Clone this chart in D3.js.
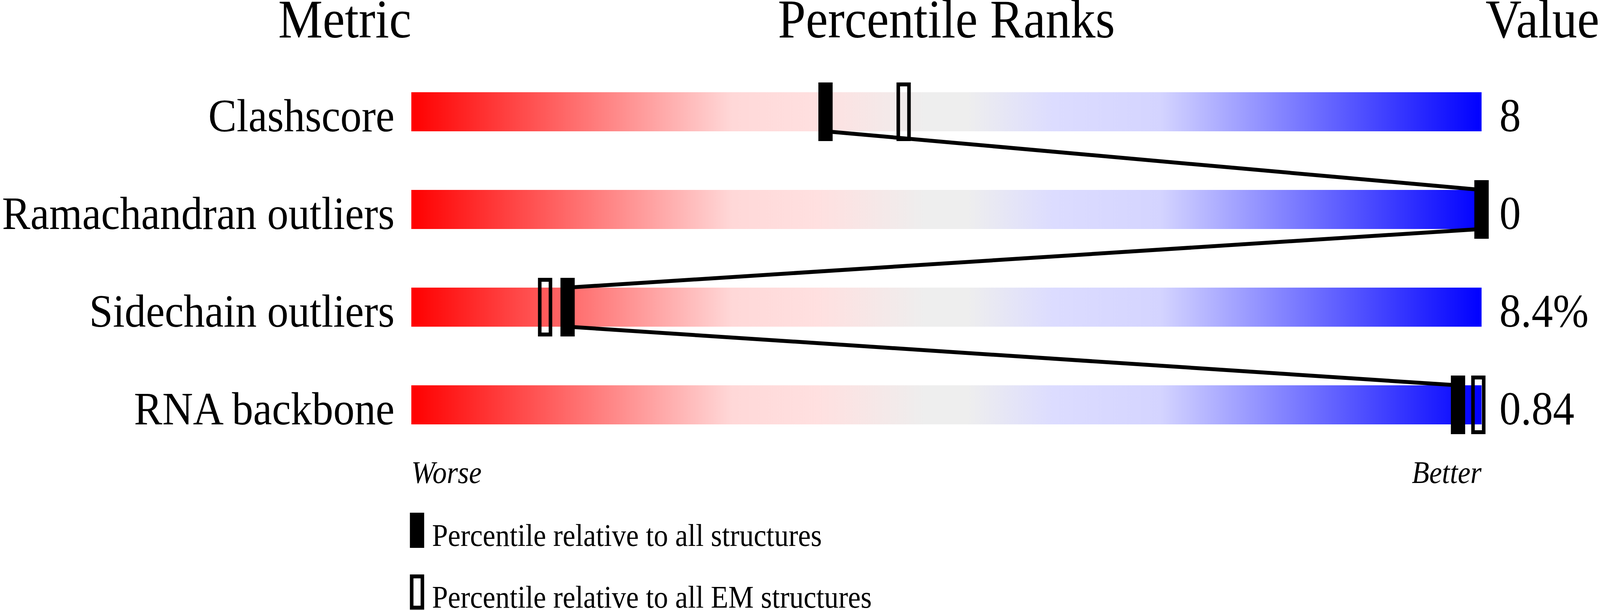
<!DOCTYPE html>
<html>
<head>
<meta charset="utf-8">
<script src="https://cdn.jsdelivr.net/npm/d3@7"></script>
<style>
  html, body { margin: 0; padding: 0; background: #fff; overflow: hidden; }
  svg { display: block; width: 100vw; height: 100vh; }
  text { font-family: "Liberation Serif", "Times New Roman", serif; fill: #000; }
</style>
</head>
<body>
<script>
var w = 4485, h = 1561;

// chart data
var metrics = ["Clashscore", "Ramachandran outliers", "Sidechain outliers", "RNA backbone"];
var values = ["8", "0", "8.4%", "0.84"];
var pctAll = [38.7, 100, 14.6, 97.8];   // filled markers
var pctEM = [46, 100, 12.5, 99.7];      // open markers
var headers = ["Metric", "Percentile Ranks", "Value"];
var legendLabels = ["Percentile relative to all structures", "Percentile relative to all EM structures"];

var gradStops = [
    [0, "#ff0000"], [0.3, "#ffd8d8"], [0.38, "#ffe0e0"], [0.48, "#eeeeee"],
    [0.52, "#eeeeee"], [0.6, "#dcdcff"], [0.7, "#d4d4ff"], [1, "#0000ff"]
];

var barH = 100, markW = 40, markH = 150, stroke = 10;

var x = d3.scaleLinear().domain([0, 100]).range([1153, 4153]);
var y = d3.scalePoint().domain(metrics).range([286, 1036]);

// the window can be narrower than the chart, so stretch the drawing to fill it
var svg = d3.select("body")
    .append("svg")
    .attr("viewBox", "0 0 " + w + " " + h)
    .attr("preserveAspectRatio", "none")

svg.append("rect").attr("width", w).attr("height", h).attr("fill", "#fff")

var grad = svg.append("defs").append("linearGradient").attr("id", "slider")
grad.selectAll("stop").data(gradStops).enter().append("stop")
    .attr("offset", function (d) { return d[0] })
    .attr("stop-color", function (d) { return d[1] })

// headers
svg.append("text").attr("x", x(0)).attr("y", 96).attr("text-anchor", "end")
    .style("font-size", "140px").text(headers[0])
svg.append("text").attr("x", (x(0) + x(100)) / 2).attr("y", 96).attr("text-anchor", "middle")
    .style("font-size", "140px").text(headers[1])
svg.append("text").attr("x", w - 2).attr("y", 96).attr("text-anchor", "end")
    .style("font-size", "140px").text(headers[2])

// bars
svg.selectAll(".bar").data(metrics).enter().append("rect")
    .attr("class", "bar")
    .attr("x", x(0))
    .attr("y", function (d) { return y(d) - barH / 2 })
    .attr("width", x(100) - x(0))
    .attr("height", barH)
    .attr("fill", "url(#slider)")

// metric labels and values
svg.selectAll(".label").data(metrics).enter().append("text")
    .attr("class", "label")
    .attr("x", 1106)
    .attr("y", function (d) { return y(d) + barH / 2 })
    .attr("text-anchor", "end")
    .style("font-size", "119px")
    .text(function (d) { return d })

svg.selectAll(".value").data(values).enter().append("text")
    .attr("class", "value")
    .attr("x", x(100) + 50)
    .attr("y", function (d, i) { return y(metrics[i]) + barH / 2 })
    .style("font-size", "120px")
    .text(function (d) { return d })

// connecting lines between filled markers
var links = d3.pairs(d3.range(metrics.length))
svg.selectAll(".link").data(links).enter().append("line")
    .attr("class", "link")
    .attr("x1", function (d) { return x(pctAll[d[0]]) })
    .attr("y1", function (d) { return y(metrics[d[0]]) + barH / 2 })
    .attr("x2", function (d) { return x(pctAll[d[1]]) })
    .attr("y2", function (d) { return y(metrics[d[1]]) - barH / 2 })
    .attr("stroke", "#000")
    .attr("stroke-width", stroke)

// open markers (EM structures)
svg.selectAll(".em").data(pctEM).enter().append("rect")
    .attr("class", "em")
    .attr("x", function (d) { return x(d) - markW / 2 + stroke / 2 })
    .attr("y", function (d, i) { return y(metrics[i]) - markH / 2 + stroke / 2 })
    .attr("width", markW - stroke)
    .attr("height", markH - stroke)
    .attr("fill", "none")
    .attr("stroke", "#000")
    .attr("stroke-width", stroke)

// filled markers (all structures)
svg.selectAll(".all").data(pctAll).enter().append("rect")
    .attr("class", "all")
    .attr("x", function (d) { return x(d) - markW / 2 })
    .attr("y", function (d, i) { return y(metrics[i]) - markH / 2 })
    .attr("width", markW)
    .attr("height", markH)
    .attr("fill", "#000")

// worse / better
svg.append("text").attr("x", x(0)).attr("y", 1236)
    .style("font-size", "80px").style("font-style", "italic").text("Worse")
svg.append("text").attr("x", x(100)).attr("y", 1236).attr("text-anchor", "end")
    .style("font-size", "80px").style("font-style", "italic").text("Better")

// legend
var legend = svg.selectAll(".legend").data(legendLabels).enter().append("g")
    .attr("class", "legend")
    .attr("transform", function (d, i) { return "translate(" + 1149 + " " + (1397 + i * 158) + ")" })

legend.append("rect")
    .attr("x", function (d, i) { return i ? stroke / 2 : 0 })
    .attr("y", function (d, i) { return -85 + (i ? stroke / 2 : 0) })
    .attr("width", function (d, i) { return i ? markW - stroke : markW })
    .attr("height", function (d, i) { return i ? 90 - stroke : 90 })
    .attr("fill", function (d, i) { return i ? "none" : "#000" })
    .attr("stroke", function (d, i) { return i ? "#000" : "none" })
    .attr("stroke-width", stroke)

legend.append("text")
    .attr("x", 62)
    .style("font-size", "80px")
    .text(function (d) { return d })
</script>
</body>
</html>
